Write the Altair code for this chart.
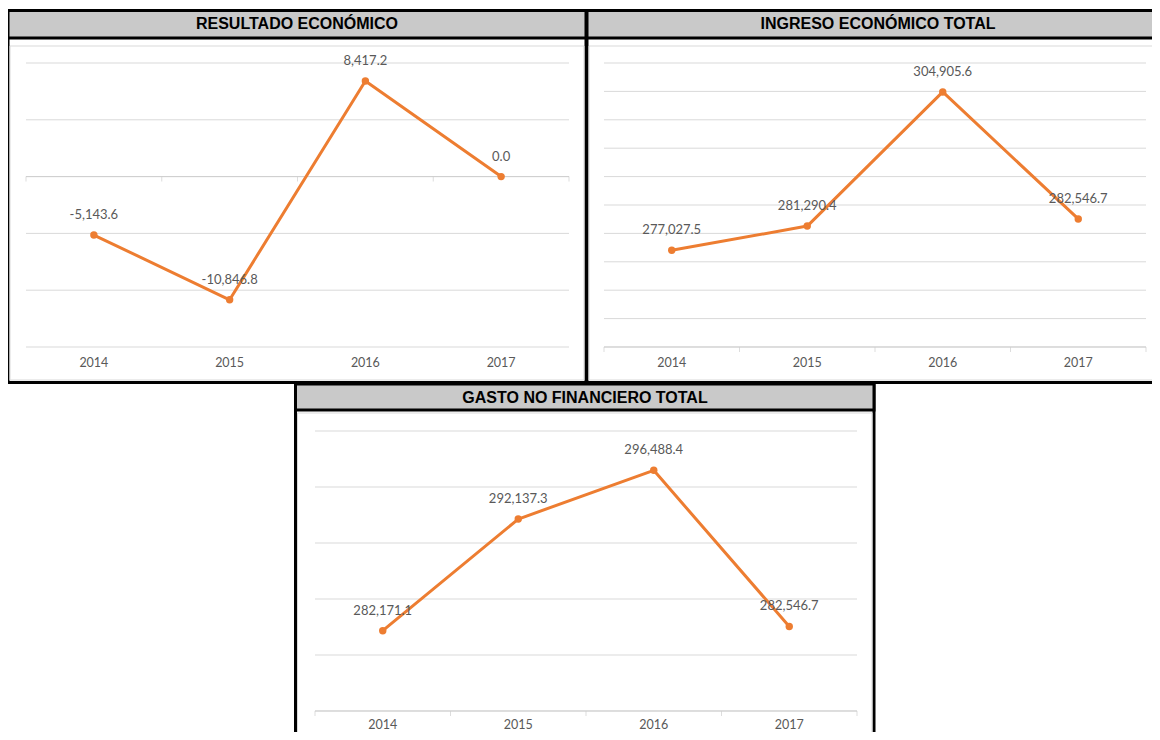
import altair as alt
import pandas as pd

# ---------------- data ----------------
years = [2014, 2015, 2016, 2017]
resultado = [-5143.6, -10846.8, 8417.2, 0.0]
ingreso = [277027.5, 281290.4, 304905.6, 282546.7]
gasto = [282171.1, 292137.3, 296488.4, 282546.7]

titles = ["RESULTADO ECONÓMICO", "INGRESO ECONÓMICO TOTAL", "GASTO NO FINANCIERO TOTAL"]

grid_resultado = [-15000, -10000, -5000, 0, 5000, 10000]
grid_ingreso = [260000, 265000, 270000, 275000, 280000, 285000,
                290000, 295000, 300000, 305000, 310000]
grid_gasto = [275000, 280000, 285000, 290000, 295000, 300000]
bounds = [2013.5, 2014.5, 2015.5, 2016.5, 2017.5]

# ---------------- styles ----------------
ORANGE = "#ED7D31"
GRID = "#d9d9d9"
AXIS = "#cfcfcf"
TXT = "#595959"
HEAD = "#c9c9c9"
FONT = "Lato"
W, H = 1144, 724

one = pd.DataFrame({"k": [0]})


def rect(x, x2, y, y2, fill, stroke, sw):
    return alt.Chart(one).mark_rect(fill=fill, stroke=stroke, strokeWidth=sw).encode(
        x=alt.value(x), x2=alt.value(x2), y=alt.value(y), y2=alt.value(y2))


def title(txt, x, y):
    return alt.Chart(pd.DataFrame({"t": [txt]})).mark_text(
        font="Liberation Sans", fontWeight="bold", fontSize=16, color="black",
        align="center", baseline="middle").encode(
        x=alt.value(x), y=alt.value(y), text="t:N")


def panel(values, grid, axis_at, xr, ydom, yr, label_y):
    xs = alt.Scale(domain=[2013.5, 2017.5], range=xr, nice=False, zero=False)
    ys = alt.Scale(domain=ydom, range=yr, nice=False, zero=False)
    X = alt.X("year:Q", scale=xs, axis=None)
    Y = alt.Y("value:Q", scale=ys, axis=None)
    df = pd.DataFrame({"year": years, "value": values,
                       "label": [f"{v:,.1f}" for v in values]})
    gdf = pd.DataFrame({"value": grid})
    adf = pd.DataFrame({"value": [axis_at]})
    tdf = pd.DataFrame({"year": bounds, "value": [axis_at] * len(bounds)})
    ydf = pd.DataFrame({"year": years, "ylab": [str(y) for y in years]})

    gridl = alt.Chart(gdf).mark_rule(color=GRID, strokeWidth=1).encode(
        y=Y, x=alt.value(xr[0]), x2=alt.value(xr[1]))
    axisl = alt.Chart(adf).mark_rule(color=AXIS, strokeWidth=1).encode(
        y=Y, x=alt.value(xr[0]), x2=alt.value(xr[1]))
    ticks = alt.Chart(tdf).mark_tick(color=AXIS, size=5, thickness=1,
                                     orient="vertical", yOffset=2.5).encode(x=X, y=Y)
    ylab = alt.Chart(ydf).mark_text(font=FONT, fontSize=12.5, color=TXT,
                                    baseline="middle").encode(
        x=X, y=alt.value(label_y), text="ylab:N")
    line = alt.Chart(df).mark_line(color=ORANGE, strokeWidth=3, strokeJoin="round",
                                   strokeCap="round").encode(x=X, y=Y)
    pts = alt.Chart(df).mark_circle(color=ORANGE, size=55, opacity=1).encode(x=X, y=Y)
    lab = alt.Chart(df).mark_text(font=FONT, fontSize=13, color=TXT, dy=-20,
                                  baseline="middle").encode(x=X, y=Y, text="label:N")
    return alt.layer(gridl, axisl, ticks, ylab, line, pts, lab)


decor = [
    # panel 1
    rect(0, 578, 2.5, 374.5, "white", "black", 3),
    rect(2, 576, 38, 372, "white", GRID, 1),
    rect(0, 578, 2.5, 30, HEAD, "black", 3),
    # panel 2
    rect(579, 1162, 2.5, 374.5, "white", "black", 3),
    rect(581, 1160, 38, 372, "white", GRID, 1),
    rect(579, 1162, 2.5, 30, HEAD, "black", 3),
    # panel 3
    rect(287.5, 866, 376, 760, "white", "black", 3),
    rect(289.5, 864, 405, 758, "white", GRID, 1),
    rect(287.5, 866, 376, 402, HEAD, "black", 3),
    title(titles[0], 289, 16),
    title(titles[1], 870, 16),
    title(titles[2], 577, 389.5),
]

p1 = panel(resultado, grid_resultado, 0, [18, 561], [-15000, 10000], [339, 55], 355)
p2 = panel(ingreso, grid_ingreso, 260000, [596, 1138], [260000, 310000], [339, 55], 355)
p3 = panel(gasto, grid_gasto, 275000, [307, 849], [275000, 300000], [703, 423], 716.5)

chart = alt.layer(*decor, p1, p2, p3).resolve_scale(
    x="independent", y="independent"
).properties(
    width=W, height=H, padding=0,
    autosize=alt.AutoSizeParams(type="none"),
).configure_view(stroke=None)

chart.save("out.html", embed_options={"renderer": "svg", "actions": False})
